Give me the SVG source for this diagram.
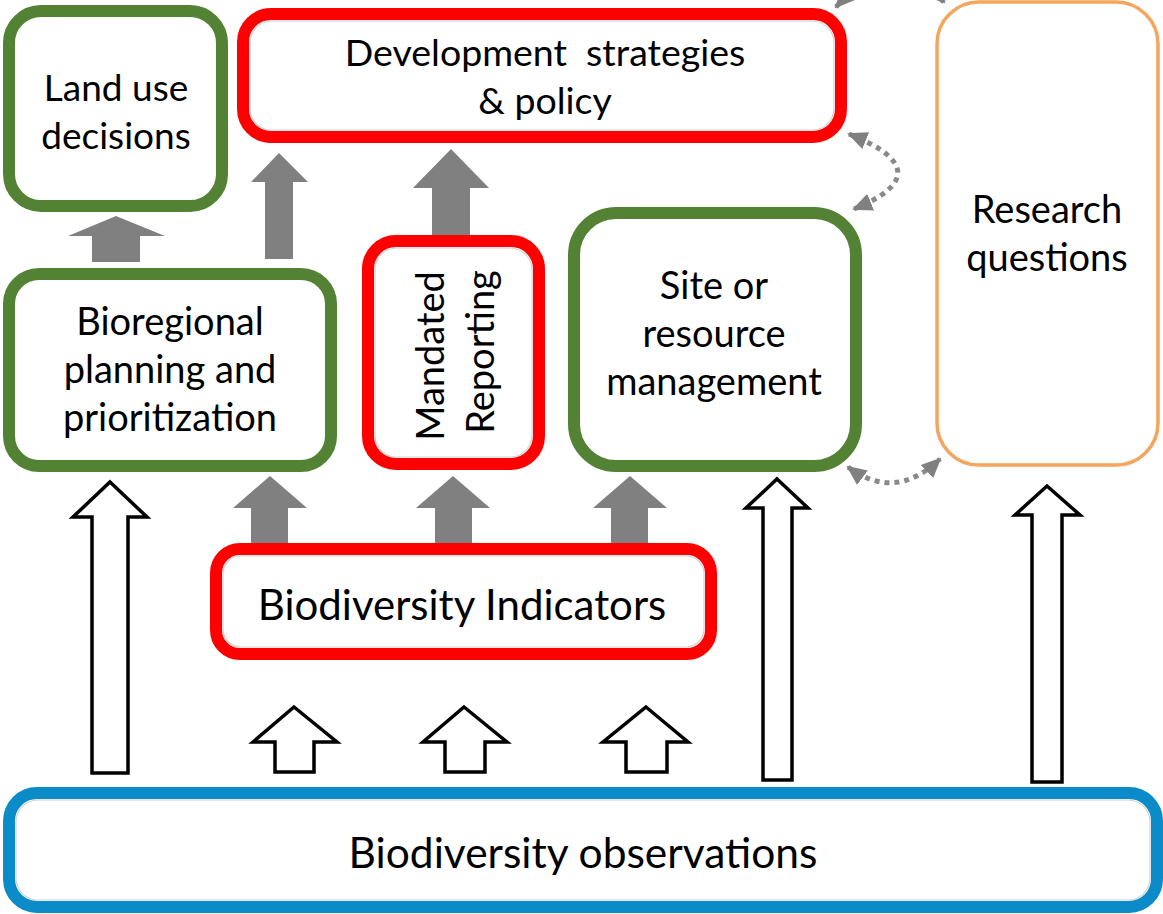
<svg xmlns="http://www.w3.org/2000/svg" width="1163" height="914" viewBox="0 0 1163 914">
  <defs>
    <style>
      .box { fill: #ffffff; }
      .green { stroke: #548235; stroke-width: 12; }
      .red { stroke: #ff0000; stroke-width: 12; }
      .blue { stroke: #0b8bc8; stroke-width: 12; }
      .orange { stroke: #f4a55e; stroke-width: 3.5; }
      .inner { fill: none; stroke: #000; stroke-opacity: 0.18; stroke-width: 1.2; }
      .lbl { font-family: Lato, "Liberation Sans", sans-serif; fill: #000; text-anchor: middle; white-space: pre; }
      .solid { fill: #808080; stroke: none; }
      .hollow { fill: #ffffff; stroke: #000; stroke-width: 3.5; stroke-linejoin: miter; }
      .dotted { fill: none; stroke: #8a8a8a; stroke-width: 5; stroke-dasharray: 5 5; }
    </style>
    <marker id="tip" viewBox="0 0 20 20" refX="18" refY="10" markerWidth="20" markerHeight="20" markerUnits="userSpaceOnUse" orient="auto-start-reverse">
      <path d="M0,1 L20,10 L0,19 Z" fill="#808080"/>
    </marker>
  </defs>

  <!-- connectors -->
  <g id="connectors">
    <!-- solid grey flow arrows -->
    <polygon class="solid" points="116,216 165,236 140,236 140,262 92,262 92,236 68,236"/>
    <polygon class="solid" points="279,153 308,182 293,182 293,259 265,259 265,182 251,182"/>
    <polygon class="solid" points="451,149 489,188 470,188 470,240 432,240 432,188 413,188"/>
    <polygon class="solid" points="270,476 307,508 288,508 288,545 251,545 251,508 233,508"/>
    <polygon class="solid" points="453,476 490,508 472,508 472,545 435,545 435,508 416,508"/>
    <polygon class="solid" points="630,476 667,508 648,508 648,545 611,545 611,508 593,508"/>

    <!-- hollow arrows from observations -->
    <polygon class="hollow" points="110,482 147,517 128,517 128,773 92,773 92,517 73,517"/>
    <polygon class="hollow" points="777,479 808,508 792,508 792,780 763,780 763,508 746,508"/>
    <polygon class="hollow" points="1047,486 1080,515 1062,515 1062,782 1032,782 1032,515 1015,515"/>
    <polygon class="hollow" points="294,707 337,742 314,742 314,772 275,772 275,742 253,742"/>
    <polygon class="hollow" points="464,707 507,742 485,742 485,772 445,772 445,742 423,742"/>
    <polygon class="hollow" points="646,707 688,742 667,742 667,772 626,772 626,742 603,742"/>

    <!-- dotted two-way links -->
    <path class="dotted" d="M 849 134 Q 944 172 854 209" marker-start="url(#tip)" marker-end="url(#tip)"/>
    <path class="dotted" d="M 848 467 Q 895 502 940 459" marker-start="url(#tip)" marker-end="url(#tip)"/>
    <path class="dotted" d="M 836 7 Q 890 -50 944 2" marker-start="url(#tip)" marker-end="url(#tip)"/>
  </g>

  <!-- nodes -->
  <g id="land-use">
    <rect class="box green" x="9" y="11" width="213" height="195" rx="32"/>
    <text class="lbl" font-size="37" x="116" y="101">Land use</text>
    <text class="lbl" font-size="37" x="116" y="149">decisions</text>
  </g>

  <g id="development">
    <rect class="box red" x="243" y="14" width="598" height="123" rx="28"/>
    <rect class="inner" x="250" y="21" width="584" height="109" rx="22"/>
    <text class="lbl" font-size="37.5" x="545" y="66">Development  strategies</text>
    <text class="lbl" font-size="37.5" x="545" y="114">&amp; policy</text>
  </g>

  <g id="research">
    <rect class="box orange" x="937" y="2" width="221" height="463" rx="42"/>
    <text class="lbl" font-size="38" x="1047" y="223">Research</text>
    <text class="lbl" font-size="38" x="1047" y="271">questions</text>
  </g>

  <g id="bioregional">
    <rect class="box green" x="9" y="274" width="322" height="192" rx="30"/>
    <text class="lbl" font-size="38" x="170" y="335">Bioregional</text>
    <text class="lbl" font-size="38" x="170" y="383">planning and</text>
    <text class="lbl" font-size="38" x="170" y="431">prioritization</text>
  </g>

  <g id="mandated">
    <rect class="box red" x="368" y="241" width="171" height="223" rx="28"/>
    <rect class="inner" x="375" y="248" width="157" height="209" rx="22"/>
    <text class="lbl" font-size="38" transform="translate(444,356) rotate(-90)">Mandated</text>
    <text class="lbl" font-size="38" transform="translate(494,352) rotate(-90)">Reporting</text>
  </g>

  <g id="site">
    <rect class="box green" x="574" y="213" width="282" height="253" rx="42"/>
    <text class="lbl" font-size="38" x="714" y="299">Site or</text>
    <text class="lbl" font-size="38" x="714" y="347">resource</text>
    <text class="lbl" font-size="38" x="714" y="395">management</text>
  </g>

  <g id="indicators">
    <rect class="box red" x="216" y="549" width="495" height="105" rx="24"/>
    <rect class="inner" x="223" y="556" width="481" height="91" rx="18"/>
    <text class="lbl" font-size="42" x="462" y="620">Biodiversity Indicators</text>
  </g>

  <g id="observations">
    <rect class="box blue" x="9" y="793" width="1148" height="114" rx="28"/>
    <rect class="inner" x="16" y="800" width="1134" height="100" rx="22"/>
    <text class="lbl" font-size="42.5" x="583" y="868">Biodiversity observations</text>
  </g>
</svg>
